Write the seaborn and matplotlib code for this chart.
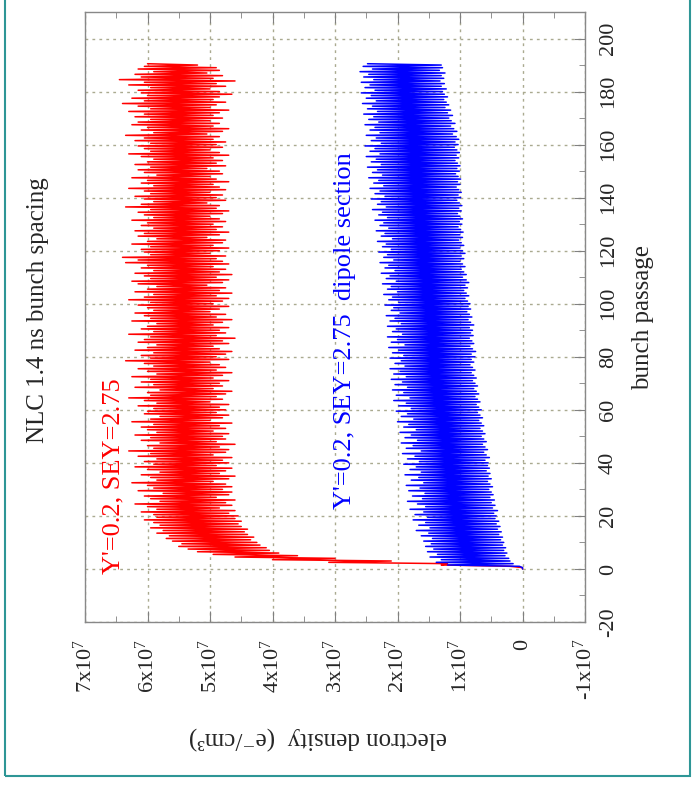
import pandas as pd
import seaborn as sns
import matplotlib.pyplot as plt
from matplotlib.patches import Rectangle

# bunch passage index (one entry per bunch)
bunch = list(range(191))

# electron density in units of 1e7 e-/cm^3, low / high swing within each bunch
red_low = [
    0.00, 0.20, 1.20, 2.10, 3.00, 3.60, 3.90, 4.05, 4.10, 4.20,
    4.25, 4.35, 4.30, 4.40, 4.45, 4.40, 4.50, 4.55, 4.50, 4.60,
    4.55, 4.70, 4.60, 4.85, 4.65, 4.75, 4.60, 4.90, 4.70, 4.65,
    4.80, 4.65, 4.75, 4.95, 4.70, 4.60, 4.85, 4.75, 4.65, 4.90,
    4.70, 4.80, 4.65, 4.95, 4.75, 4.70, 4.85, 4.60, 4.90, 4.75,
    4.80, 4.70, 4.95, 4.75, 4.85, 4.65, 5.00, 4.80, 4.70, 4.90,
    4.75, 4.85, 4.70, 5.00, 4.80, 4.90, 4.75, 4.65, 4.95, 4.80,
    4.85, 4.70, 4.95, 4.80, 4.65, 4.90, 4.75, 4.85, 5.00, 4.70,
    4.90, 4.75, 4.65, 4.85, 4.95, 4.70, 4.80, 4.60, 4.90, 4.75,
    4.85, 4.70, 4.95, 4.80, 4.65, 4.90, 4.75, 5.00, 4.85, 4.70,
    4.95, 4.80, 4.70, 4.90, 4.65, 4.85, 4.75, 5.05, 4.80, 4.70,
    4.90, 4.65, 4.85, 4.75, 4.95, 4.70, 4.80, 4.90, 4.75, 5.00,
    4.85, 4.70, 4.95, 4.80, 4.75, 5.05, 4.85, 4.70, 4.90, 4.80,
    4.95, 4.75, 4.85, 5.00, 4.80, 4.70, 4.90, 4.85, 5.05, 4.75,
    4.90, 4.80, 5.00, 4.75, 4.85, 4.95, 4.70, 4.90, 5.00, 4.80,
    4.85, 5.05, 4.75, 4.90, 4.80, 4.95, 4.70, 4.85, 5.00, 4.80,
    4.90, 4.75, 4.95, 4.85, 5.05, 4.80, 4.70, 4.95, 4.85, 5.00,
    4.80, 4.95, 4.85, 4.70, 5.00, 4.90, 4.75, 4.95, 4.85, 4.65,
    4.85, 5.00, 4.75, 4.90, 4.60, 4.95, 4.80, 5.05, 4.85, 4.90,
    5.20,
]
red_high = [
    0.00, 1.30, 3.10, 4.00, 4.60, 4.95, 5.20, 5.35, 5.50, 5.45,
    5.60, 5.70, 5.65, 5.85, 5.75, 5.95, 5.80, 5.90, 6.05, 5.85,
    5.90, 6.10, 5.85, 6.00, 6.20, 5.80, 5.95, 6.05, 5.75, 6.15,
    5.90, 6.00, 6.25, 5.85, 5.95, 6.10, 5.80, 6.00, 6.20, 5.90,
    6.05, 5.85, 6.15, 5.95, 6.30, 5.90, 6.00, 5.80, 6.10, 5.95,
    6.20, 5.85, 6.00, 6.10, 5.90, 6.25, 5.95, 5.80, 6.05, 6.00,
    5.90, 6.15, 5.85, 6.05, 6.30, 5.95, 6.00, 5.80, 6.20, 5.90,
    6.10, 5.95, 6.25, 5.85, 6.00, 6.15, 5.90, 6.05, 6.35, 5.95,
    6.10, 5.90, 6.20, 6.00, 5.85, 6.15, 6.05, 5.95, 6.30, 5.90,
    6.10, 6.00, 5.85, 6.25, 5.95, 6.05, 6.20, 5.90, 6.00, 6.15,
    5.95, 6.30, 6.05, 5.90, 6.20, 6.00, 5.85, 6.15, 6.25, 5.95,
    6.05, 6.20, 5.90, 6.10, 6.00, 6.35, 6.15, 6.40, 5.95, 6.05,
    6.10, 5.95, 6.25, 6.00, 5.85, 6.15, 6.05, 6.20, 5.90, 6.10,
    6.00, 6.25, 5.90, 6.05, 6.15, 5.95, 6.35, 6.10, 5.90, 6.05,
    6.20, 5.95, 6.05, 6.30, 5.90, 6.10, 6.00, 6.25, 5.85, 6.05,
    6.15, 5.95, 6.20, 6.00, 5.90, 6.10, 6.30, 5.95, 6.05, 6.15,
    5.95, 6.20, 6.05, 6.35, 5.90, 6.10, 6.00, 6.25, 6.15, 5.95,
    6.20, 6.05, 6.30, 5.95, 6.15, 6.40, 6.05, 6.25, 6.00, 6.10,
    6.15, 5.95, 6.30, 6.05, 6.45, 6.10, 6.20, 5.90, 6.15, 6.05,
    6.00,
]
blue_low = [
    0.00, 0.05, 0.15, 0.20, 0.22, 0.28, 0.25, 0.30, 0.27, 0.32,
    0.30, 0.35, 0.32, 0.38, 0.34, 0.40, 0.36, 0.42, 0.38, 0.44,
    0.42, 0.46, 0.40, 0.48, 0.44, 0.50, 0.45, 0.52, 0.47, 0.50,
    0.54, 0.48, 0.52, 0.56, 0.50, 0.55, 0.52, 0.58, 0.53, 0.56,
    0.55, 0.60, 0.53, 0.58, 0.62, 0.56, 0.60, 0.64, 0.58, 0.62,
    0.66, 0.60, 0.64, 0.68, 0.62, 0.66, 0.70, 0.64, 0.68, 0.72,
    0.66, 0.70, 0.74, 0.68, 0.72, 0.76, 0.70, 0.74, 0.78, 0.72,
    0.76, 0.80, 0.74, 0.78, 0.82, 0.76, 0.80, 0.84, 0.78, 0.82,
    0.76, 0.82, 0.75, 0.80, 0.84, 0.78, 0.81, 0.85, 0.79, 0.83,
    0.80, 0.85, 0.78, 0.83, 0.87, 0.81, 0.85, 0.89, 0.83, 0.87,
    0.84, 0.88, 0.92, 0.86, 0.90, 0.94, 0.88, 0.92, 0.86, 0.90,
    0.96, 0.90, 0.94, 0.98, 0.92, 0.96, 1.00, 0.94, 0.98, 0.92,
    0.96, 1.00, 0.94, 0.98, 1.02, 0.96, 1.00, 0.95, 0.99, 1.03,
    0.97, 1.01, 0.96, 1.00, 1.04, 0.98, 1.02, 0.97, 1.01, 1.05,
    0.99, 1.03, 0.98, 1.02, 1.06, 1.00, 1.04, 0.99, 1.03, 1.07,
    1.01, 1.05, 1.00, 1.04, 1.08, 1.02, 1.06, 1.01, 1.05, 1.09,
    1.03, 1.08, 1.02, 1.06, 1.12, 1.05, 1.10, 1.15, 1.08, 1.14,
    1.18, 1.12, 1.20, 1.15, 1.24, 1.18, 1.22, 1.26, 1.20, 1.25,
    1.28, 1.22, 1.30, 1.25, 1.32, 1.26, 1.30, 1.24, 1.33, 1.28,
    1.30,
]
blue_high = [
    0.00, 1.20, 1.38, 1.30, 1.48, 1.36, 1.52, 1.42, 1.55, 1.46,
    1.58, 1.44, 1.62, 1.50, 1.70, 1.48, 1.66, 1.55, 1.75, 1.52,
    1.72, 1.58, 1.80, 1.55, 1.68, 1.84, 1.60, 1.76, 1.56, 1.82,
    1.64, 1.86, 1.58, 1.78, 1.66, 1.88, 1.62, 1.80, 1.70, 1.90,
    1.65, 1.84, 1.72, 1.92, 1.62, 1.86, 1.75, 1.94, 1.68, 1.88,
    1.78, 1.96, 1.70, 1.90, 1.82, 2.00, 1.74, 1.94, 1.84, 2.02,
    1.78, 1.98, 1.86, 2.06, 1.80, 2.02, 1.90, 2.08, 1.84, 2.04,
    1.92, 2.10, 1.86, 2.06, 1.96, 2.12, 1.88, 2.04, 1.94, 2.12,
    1.90, 2.08, 1.98, 2.14, 1.88, 2.10, 2.00, 2.16, 1.92, 2.08,
    2.02, 2.16, 1.94, 2.12, 2.04, 2.18, 1.96, 2.10, 2.06, 2.20,
    1.98, 2.14, 2.08, 2.22, 2.00, 2.16, 2.10, 2.24, 2.02, 2.18,
    2.12, 2.26, 2.04, 2.20, 2.14, 2.28, 2.06, 2.22, 2.16, 2.30,
    2.10, 2.24, 2.18, 2.32, 2.08, 2.26, 2.20, 2.34, 2.14, 2.28,
    2.22, 2.36, 2.16, 2.30, 2.24, 2.40, 2.18, 2.32, 2.26, 2.42,
    2.20, 2.36, 2.28, 2.44, 2.22, 2.38, 2.30, 2.46, 2.24, 2.40,
    2.32, 2.48, 2.26, 2.42, 2.34, 2.50, 2.28, 2.44, 2.36, 2.52,
    2.26, 2.42, 2.34, 2.50, 2.28, 2.44, 2.36, 2.52, 2.30, 2.46,
    2.38, 2.54, 2.32, 2.48, 2.40, 2.56, 2.34, 2.50, 2.42, 2.58,
    2.36, 2.52, 2.44, 2.58, 2.38, 2.54, 2.46, 2.60, 2.40, 2.55,
    2.48,
]

density_ticks = [7, 6, 5, 4, 3, 2, 1, 0, -1]
density_labels = ['7x10$^7$', '6x10$^7$', '5x10$^7$', '4x10$^7$', '3x10$^7$',
                  '2x10$^7$', '1x10$^7$', '0', '-1x10$^7$']
bunch_ticks = [-20, 0, 20, 40, 60, 80, 100, 120, 140, 160, 180, 200]


def trace(low, high):
    # within each bunch the density swings from its low to its high value
    pos, dens = [], []
    for b, lo, hi in zip(bunch, low, high):
        pos += [b, b + 0.5]
        dens += [lo, hi]
    return pd.DataFrame({'bunch': pos, 'density': dens})


sns.set_style('white')
plt.rcParams['font.family'] = ['Liberation Serif', 'DejaVu Serif']
plt.rcParams['mathtext.fontset'] = 'custom'
plt.rcParams['mathtext.rm'] = 'Liberation Serif'
plt.rcParams['mathtext.it'] = 'Liberation Serif:italic'

fig = plt.figure(figsize=(6.95, 7.90), dpi=100)
ax = fig.add_axes([85 / 695, 1 - 622 / 790, 500 / 695, 610 / 790])

sns.lineplot(data=trace(red_low, red_high), x='density', y='bunch', sort=False,
             estimator=None, color='#ff0000', lw=1.1, ax=ax)
sns.lineplot(data=trace(blue_low, blue_high), x='density', y='bunch', sort=False,
             estimator=None, color='#0000ff', lw=1.1, ax=ax)

ax.set_xlim(7, -1)
ax.set_ylim(-20, 210)
ax.set_xlabel('')

ax.set_xticks(density_ticks)
ax.set_xticklabels(density_labels, rotation=90, fontsize=16)
ax.set_xticks([x / 2 for x in range(-2, 15)], minor=True)
ax.yaxis.tick_right()
ax.set_yticks(bunch_ticks)
ax.set_yticklabels([str(t) for t in bunch_ticks], rotation=90, va='center', fontsize=16)
ax.set_yticks(list(range(-10, 211, 20)), minor=True)

ax.tick_params(axis='x', which='both', direction='in', top=True, bottom=True,
               color='#808080', pad=12)
ax.tick_params(axis='x', which='major', length=8)
ax.tick_params(axis='x', which='minor', length=4)
ax.tick_params(axis='y', which='both', direction='in', right=True, left=False,
               color='#808080', pad=10)
ax.tick_params(axis='y', which='major', length=8)
ax.tick_params(axis='y', which='minor', length=4)

ax.grid(True, which='major', color='#aaaa90', linestyle=(0, (2, 3)), lw=1)
ax.set_axisbelow(True)
for s in ax.spines.values():
    s.set_color('#888888')
    s.set_linewidth(1)

ax.yaxis.set_label_position('right')
ax.set_ylabel('bunch passage', fontsize=18, rotation=90, labelpad=10)

ax.text(6.55, 35, "Y'=0.2, SEY=2.75", color='#ff0000', rotation=90,
        ha='center', va='center', fontsize=19)
ax.text(2.84, 90, "Y'=0.2, SEY=2.75  dipole section", color='#0000ff', rotation=90,
        ha='center', va='center', fontsize=19)

fig.text(38 / 695, 1 - 310 / 790, 'NLC 1.4 ns bunch spacing', rotation=90,
         ha='center', va='center', fontsize=18)
fig.text(318 / 695, 1 - 738 / 790, 'electron density  (e\u207b/cm\u00b3)', rotation=180,
         ha='center', va='center', fontsize=18)

fig.add_artist(Rectangle((5 / 695, 1 - 776 / 790), 685 / 695, 1.0, transform=fig.transFigure,
                         fill=False, edgecolor='#2e9696', lw=1.5))

fig.savefig('out.png', dpi=100)
